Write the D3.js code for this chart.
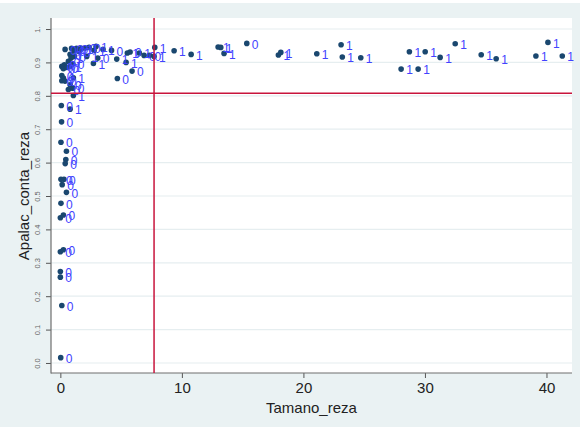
<!DOCTYPE html>
<html>
<head>
<meta charset="utf-8">
<script src="https://cdn.jsdelivr.net/npm/d3@7"></script>
<style>
  html, body { margin: 0; padding: 0; background: #eaf2f3; }
  svg { display: block; }
  text { font-family: "Liberation Sans", Arial, sans-serif; }
</style>
</head>
<body>
<svg id="chart" width="580" height="427"></svg>
<script>
// Tamano_reza (x), Apalac_conta_reza (y) and the 0/1 group used as marker label
const tamano = [
  0.39, 0.92, 1.13, 1.33, 1.54, 1.74, 2.03, 2.36, 2.77, 2.94, 3.51, 4.21, 5.51, 5.74, 6.50, 6.89, 7.33, 7.71,
  0.80, 1.15, 0.88, 0.66, 2.17, 2.72, 3.08, 4.64, 5.41, 5.90, 4.69,
  0.33, 0.12, 0.25, 0.53, 0.80, 1.02, 0.12, 0.25, 0.12, 0.39, 1.07, 0.80, 0.66, 1.02, 1.07,
  0.08, 0.80, 0.10, 0.05, 0.50, 0.45, 0.40, 0.05, 0.30, 0.15, 0.50, 0.05, 0.00, 0.25, 0.00, 0.25, 0.00, 0.00, 0.12, 0.03,
  7.77, 9.36, 10.76, 12.98, 13.20, 13.47, 15.34, 17.94, 18.14, 21.10, 23.10, 23.20, 24.72, 28.04, 28.72, 29.44,
  30.02, 31.25, 32.49, 34.63, 35.86, 39.13, 40.12, 41.30
];
const apalac = [
  0.939, 0.942, 0.934, 0.942, 0.933, 0.942, 0.943, 0.945, 0.936, 0.948, 0.939, 0.936, 0.928, 0.931, 0.928, 0.921, 0.921, 0.918,
  0.924, 0.918, 0.913, 0.903, 0.918, 0.897, 0.913, 0.910, 0.900, 0.874, 0.852,
  0.893, 0.888, 0.881, 0.885, 0.888, 0.895, 0.861, 0.853, 0.845, 0.844, 0.854, 0.833, 0.819, 0.823, 0.801,
  0.771, 0.760, 0.722, 0.661, 0.634, 0.609, 0.597, 0.550, 0.550, 0.534, 0.511, 0.478, 0.435, 0.443, 0.333, 0.339, 0.274, 0.257, 0.172, 0.016,
  0.945, 0.935, 0.924, 0.946, 0.945, 0.927, 0.957, 0.922, 0.930, 0.926, 0.953, 0.916, 0.914, 0.880, 0.932, 0.880,
  0.932, 0.915, 0.956, 0.923, 0.911, 0.919, 0.960, 0.919
];
const grupo = [
  "0", "0", "0", "0", "0", "1", "0", "0", "1", "1", "1", "0", "1", "0", "1", "0", "0", "1",
  "0", "0", "1", "0", "1", "1", "0", "1", "1", "0", "0",
  "0", "0", "0", "0", "1", "0", "0", "0", "0", "0", "1", "0", "0", "0", "1",
  "0", "1", "0", "0", "0", "0", "0", "0", "0", "0", "0", "0", "0", "0", "0", "0", "0", "0", "0", "0",
  "1", "1", "1", "1", "1", "1", "0", "1", "1", "1", "1", "1", "1", "1", "1", "1",
  "1", "1", "1", "1", "1", "1", "1", "1"
];

// reference lines
const corteX = 7.71;
const corteY = 0.808;

// axis ticks
const xTicks = [0, 10, 20, 30, 40];
const yTicks = [0, 0.1, 0.2, 0.3, 0.4, 0.5, 0.6, 0.7, 0.8, 0.9, 1.0];
const yTickLabels = ["0.0", "0.1", "0.2", "0.3", "0.4", "0.5", "0.6", "0.7", "0.8", "0.9", "1."];

const puntos = tamano.map((t, i) => ({ x: t, y: apalac[i], g: grupo[i] }));

const svg = d3.select("#chart");
const plot = { left: 51, right: 572, top: 18, bottom: 373 };

const x = d3.scaleLinear().domain([-0.77, 42.1]).range([plot.left, plot.right]);
const y = d3.scaleLinear().domain([-0.03, 1.033]).range([plot.bottom, plot.top]);

// thin white band along the top edge
svg.append("rect").attr("x", 0).attr("y", 0).attr("width", 580).attr("height", 3).attr("fill", "#ffffff");

// plot region
svg.append("rect")
  .attr("x", plot.left).attr("y", plot.top)
  .attr("width", plot.right - plot.left).attr("height", plot.bottom - plot.top)
  .attr("fill", "#ffffff");

// horizontal grid
svg.append("g").selectAll("line").data(yTicks).join("line")
  .attr("x1", plot.left).attr("x2", plot.right)
  .attr("y1", d => y(d)).attr("y2", d => y(d))
  .attr("stroke", "#e6eef0").attr("stroke-width", 1.2);

// y axis
const yAxis = d3.axisLeft(y).tickValues(yTicks).tickSize(5).tickPadding(4)
  .tickFormat((d, i) => yTickLabels[i]);
const gy = svg.append("g").attr("transform", `translate(${plot.left},0)`).call(yAxis);
gy.select(".domain").remove();
gy.selectAll(".tick line").attr("stroke", "#555");
gy.selectAll(".tick text")
  .attr("fill", "#666").attr("font-size", 7.5)
  .attr("text-anchor", "middle")
  .attr("transform", "rotate(-90)")
  .attr("x", 0).attr("y", -9).attr("dy", 0)
  .each(function (d) {
    d3.select(this).attr("transform", `translate(-14,0) rotate(-90)`).attr("x", 0).attr("y", 0).attr("dy", "0.35em");
  });

// x axis
const xAxis = d3.axisBottom(x).tickValues(xTicks).tickSize(5).tickPadding(4).tickFormat(d3.format("d"));
const gx = svg.append("g").attr("transform", `translate(0,${plot.bottom})`).call(xAxis);
gx.select(".domain").remove();
gx.selectAll(".tick line").attr("stroke", "#555");
gx.selectAll(".tick text").attr("fill", "#222").attr("font-size", 15);

// axis lines
svg.append("line").attr("x1", plot.left).attr("x2", plot.left)
  .attr("y1", plot.top).attr("y2", plot.bottom + 0.5)
  .attr("stroke", "#6e6e6e").attr("stroke-width", 1.2);
svg.append("line").attr("x1", plot.left).attr("x2", plot.right)
  .attr("y1", plot.bottom).attr("y2", plot.bottom)
  .attr("stroke", "#6e6e6e").attr("stroke-width", 1.2);

// axis titles
svg.append("text").attr("x", (x(0) + x(40)) / 2 + 8).attr("y", 413)
  .attr("text-anchor", "middle").attr("font-size", 15).attr("fill", "#222")
  .text("Tamano_reza");
svg.append("text").attr("transform", `translate(29,${y(0.5)}) rotate(-90)`)
  .attr("text-anchor", "middle").attr("font-size", 15).attr("fill", "#222")
  .text("Apalac_conta_reza");

// markers
svg.append("g").selectAll("circle").data(puntos).join("circle")
  .attr("cx", d => x(d.x)).attr("cy", d => y(d.y)).attr("r", 2.8)
  .attr("fill", "#1a476f");

// marker labels
svg.append("g").selectAll("text").data(puntos).join("text")
  .attr("x", d => x(d.x) + 5).attr("y", d => y(d.y) + 1)
  .attr("dy", "0.35em").attr("font-size", 12).attr("fill", "#4242ff")
  .text(d => d.g);

// reference lines
svg.append("line").attr("x1", x(corteX)).attr("x2", x(corteX))
  .attr("y1", plot.top).attr("y2", plot.bottom)
  .attr("stroke", "#c8143c").attr("stroke-width", 1.5);
svg.append("line").attr("x1", plot.left).attr("x2", plot.right)
  .attr("y1", y(corteY)).attr("y2", y(corteY))
  .attr("stroke", "#c8143c").attr("stroke-width", 1.5);
</script>
</body>
</html>
